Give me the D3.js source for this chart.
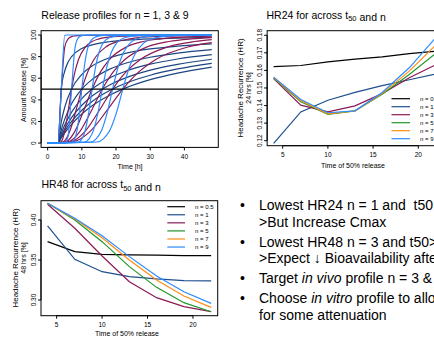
<!DOCTYPE html>
<html>
<head>
<meta charset="utf-8">
<script src="https://cdn.jsdelivr.net/npm/d3@7"></script>
<style>
  body { margin: 0; background: #fff; }
  text { font-family: "Liberation Sans", Arial, sans-serif; fill: #000; white-space: pre; }
</style>
</head>
<body>
<svg id="chart" width="434" height="338"></svg>
<script>
// ---- data ----
// release profiles, [time h, % released], one curve per t50 (4,7,...,22)
var releaseN1 = [
  [[0,0],[3,0],[4,50],[5,66.7],[6,75],[7,80],[10,87.5],[13,90.9],[18,93.8],[23,95.2],[30,96.4],[38,97.2],[48,97.8]],
  [[0,0],[3,0],[4,20],[5,33.3],[7,50],[10,63.6],[13,71.4],[18,78.9],[23,83.3],[30,87.1],[38,89.7],[48,91.8]],
  [[0,0],[3,0],[4,12.5],[5,22.2],[7,36.4],[10,50],[13,58.8],[18,68.2],[23,74.1],[30,79.4],[38,83.3],[48,86.5]],
  [[0,0],[3,0],[4,9.1],[5,16.7],[7,28.6],[10,41.2],[13,50],[18,60],[23,66.7],[30,73],[38,77.8],[48,81.8]],
  [[0,0],[3,0],[4,7.1],[5,13.3],[7,23.5],[10,35],[13,43.5],[18,53.6],[23,60.6],[30,67.5],[38,72.9],[48,77.6]],
  [[0,0],[3,0],[4,5.9],[5,11.1],[7,20],[10,30.4],[13,38.5],[18,48.4],[23,55.6],[30,62.8],[38,68.6],[48,73.8]],
  [[0,0],[3,0],[4,5],[5,9.5],[7,17.4],[10,26.9],[13,34.5],[18,44.1],[23,51.3],[30,58.7],[38,64.8],[48,70.3]]
];
var releaseN3 = [
  [[0,0],[3,0],[4,50],[5,88.9],[6,96.4],[7,98.5],[8,99.2],[10,99.7],[48,100]],
  [[0,0],[3,0],[4,1.5],[5,11.1],[6,29.7],[7,50],[8,66.1],[9,77.1],[11,88.9],[13,94],[15,96.4],[19,98.5],[27,99.5],[48,100]],
  [[0,0],[3,0],[4.75,1.5],[6.5,11.1],[8.25,29.7],[10,50],[11.75,66.1],[13.5,77.1],[17,88.9],[20.5,94],[24,96.4],[31,98.5],[48,99.6]],
  [[0,0],[3,0],[5.5,1.5],[8,11.1],[10.5,29.7],[13,50],[15.5,66.1],[18,77.1],[23,88.9],[28,94],[33,96.4],[43,98.5],[48,98.9]],
  [[0,0],[3,0],[6.25,1.5],[9.5,11.1],[12.75,29.7],[16,50],[19.25,66.1],[22.5,77.1],[29,88.9],[35.5,94],[42,96.4],[48,97.6]],
  [[0,0],[3,0],[7,1.5],[11,11.1],[15,29.7],[19,50],[23,66.1],[27,77.1],[35,88.9],[43,94],[48,95.7]],
  [[0,0],[3,0],[7.75,1.5],[12.5,11.1],[17.25,29.7],[22,50],[26.75,66.1],[31.5,77.1],[41,88.9],[48,93]]
];
var releaseN9 = [
  [[0,0],[3,0],[4,50],[5,99.8],[6,100],[48,100]],
  [[0,0],[5,0.2],[6,7],[7,50],[8,88.2],[9,97.5],[10,99.4],[12,100],[48,100]],
  [[0,0],[7.2,1],[7.9,3.9],[8.6,11.8],[9.3,27.9],[10,50],[10.7,70.2],[11.4,83.8],[12.1,91.4],[13.5,97.5],[15.6,99.5],[20.5,100],[48,100]],
  [[0,0],[9,1],[10,3.9],[11,11.8],[12,27.9],[13,50],[14,70.2],[15,83.8],[16,91.4],[18,97.5],[21,99.5],[28,100],[48,100]],
  [[0,0],[10.8,1],[12.1,3.9],[13.4,11.8],[14.7,27.9],[16,50],[17.3,70.2],[18.6,83.8],[19.9,91.4],[22.5,97.5],[26.4,99.5],[35.5,100],[48,100]],
  [[0,0],[12.6,1],[14.2,3.9],[15.8,11.8],[17.4,27.9],[19,50],[20.6,70.2],[22.2,83.8],[23.8,91.4],[27,97.5],[31.8,99.5],[43,100],[48,100]],
  [[0,0],[14.4,1],[16.3,3.9],[18.2,11.8],[20.1,27.9],[22,50],[23.9,70.2],[25.8,83.8],[27.7,91.4],[31.5,97.5],[37.2,99.5],[48,100]]
];
var halfRelease = 50;

// headache recurrence vs t50
var t50 = [4, 7, 10, 13, 16, 19, 22];
var nLabels = ["n = 0.5", "n = 1", "n = 3", "n = 5", "n = 7", "n = 9"];
var hr24_n05 = [0.1621, 0.1628, 0.1649, 0.1664, 0.1677, 0.1696, 0.1710];
var hr24_n1  = [0.1185, 0.1364, 0.1430, 0.1475, 0.1513, 0.1547, 0.1580];
var hr24_n3  = [0.1553, 0.1402, 0.1364, 0.1398, 0.1468, 0.1558, 0.1634];
var hr24_n5  = [0.1557, 0.1421, 0.1350, 0.1370, 0.1464, 0.1577, 0.1700];
var hr24_n7  = [0.1560, 0.1428, 0.1353, 0.1370, 0.1468, 0.1596, 0.1748];
var hr24_n9  = [0.1562, 0.1434, 0.1359, 0.1370, 0.1474, 0.1615, 0.1791];

var hr48_n05 = [0.3729, 0.3604, 0.3571, 0.3565, 0.3560, 0.3555, 0.3555];
var hr48_n1  = [0.3925, 0.3508, 0.3354, 0.3292, 0.3263, 0.3242, 0.3238];
var hr48_n3  = [0.4196, 0.3896, 0.3550, 0.3229, 0.3029, 0.2917, 0.2854];
var hr48_n5  = [0.4208, 0.4000, 0.3729, 0.3417, 0.3158, 0.2967, 0.2854];
var hr48_n7  = [0.4208, 0.4012, 0.3779, 0.3500, 0.3250, 0.3050, 0.2908];
var hr48_n9  = [0.4208, 0.4021, 0.3804, 0.3542, 0.3300, 0.3104, 0.2958];

var timeTicks = [0, 10, 20, 30, 40];
var pctTicks = [0, 20, 40, 60, 80, 100];
var t50Ticks = [5, 10, 15, 20];
var hr24Ticks = [0.12, 0.13, 0.14, 0.15, 0.16, 0.17, 0.18];
var hr48Ticks = [0.30, 0.35, 0.40];

var nColors = ["#000000", "#1f4f8f", "#8c1a55", "#22962a", "#ff8c14", "#2a8cff"];
var releaseColors = ["#1c4680", "#8c1a55", "#2a8cff"];

var svg = d3.select("#chart");

// R-style axes: box + outward ticks, y labels rotated
function rAxes(x, y, xt, yt, yfmt) {
  var x0 = x.range()[0], x1 = x.range()[1], y0 = y.range()[0], y1 = y.range()[1];
  svg.append("rect")
    .attr("x", x0).attr("y", y1).attr("width", x1 - x0).attr("height", y0 - y1)
    .attr("fill", "none").attr("stroke", "#000").attr("stroke-width", 1);

  svg.append("line").attr("x1", x(xt[0])).attr("x2", x(xt[xt.length - 1]))
    .attr("y1", y0).attr("y2", y0).attr("stroke", "#000");
  xt.forEach(function(v) {
    svg.append("line").attr("x1", x(v)).attr("x2", x(v)).attr("y1", y0).attr("y2", y0 + 3).attr("stroke", "#000");
    svg.append("text").attr("x", x(v)).attr("y", y0 + 11.5).attr("text-anchor", "middle")
      .attr("font-size", 6.5).text(v);
  });

  svg.append("line").attr("x1", x0).attr("x2", x0)
    .attr("y1", y(yt[0])).attr("y2", y(yt[yt.length - 1])).attr("stroke", "#000");
  yt.forEach(function(v) {
    svg.append("line").attr("x1", x0 - 3).attr("x2", x0).attr("y1", y(v)).attr("y2", y(v)).attr("stroke", "#000");
    svg.append("text").attr("transform", "translate(" + (x0 - 5.5) + "," + y(v) + ") rotate(-90)")
      .attr("text-anchor", "middle").attr("font-size", 6.5).text(yfmt(v));
  });
}

function title(x, y, parts, anchor) {
  var t = svg.append("text").attr("x", x).attr("y", y).attr("font-size", 10.5)
    .attr("text-anchor", anchor || "start");
  parts.forEach(function(p) {
    if (p.sub) {
      t.append("tspan").attr("font-size", 7.5).attr("dy", 2.5).text(p.text);
      t.append("tspan").attr("dy", -2.5).text("");
    } else {
      t.append("tspan").text(p.text);
    }
  });
}

function rotLabel(x, y, txt, size) {
  svg.append("text").attr("transform", "translate(" + x + "," + y + ") rotate(-90)")
    .attr("text-anchor", "middle").attr("font-size", size).text(txt);
}

// ---- panel 1: release profiles ----
var x1 = d3.scaleLinear().domain([-1.92, 49.92]).range([41.1, 218.3]);
var y1 = d3.scaleLinear().domain([-4, 104]).range([147.4, 30.7]);
var rel = d3.line().x(function(d) { return x1(d[0]); }).y(function(d) { return y1(d[1]); })
  .curve(d3.curveMonotoneX);

svg.append("clipPath").attr("id", "c1").append("rect")
  .attr("x", 41.1).attr("y", 30.7).attr("width", 177.2).attr("height", 116.7);

var g1 = svg.append("g").attr("clip-path", "url(#c1)");
[releaseN1, releaseN3, releaseN9].forEach(function(set, i) {
  g1.selectAll(null).data(set).enter().append("path")
    .attr("d", rel).attr("fill", "none")
    .attr("stroke", releaseColors[i]).attr("stroke-width", 1.2);
});
g1.append("line").attr("x1", x1.range()[0]).attr("x2", x1.range()[1])
  .attr("y1", y1(halfRelease)).attr("y2", y1(halfRelease))
  .attr("stroke", "#000").attr("stroke-width", 1.2);

rAxes(x1, y1, timeTicks, pctTicks, function(v) { return v; });
title(115, 18.5, [{text: "Release profiles for n = 1, 3 & 9"}], "middle");
svg.append("text").attr("x", 130).attr("y", 168.5).attr("text-anchor", "middle")
  .attr("font-size", 7).text("Time [h]");
rotLabel(25.5, 90, "Amount Release [%]", 7);

// ---- panel 2: HR24 ----
var x2 = d3.scaleLinear().domain([3.28, 22.72]).range([267.15, 442.9]);
var y2 = d3.scaleLinear().domain([0.11715, 0.1826]).range([145.7, 30.7]);
var hr24 = [hr24_n05, hr24_n1, hr24_n3, hr24_n5, hr24_n7, hr24_n9];
var line2 = d3.line().x(function(d, i) { return x2(t50[i]); }).y(function(d) { return y2(d); });
svg.append("clipPath").attr("id", "c2").append("rect")
  .attr("x", 267).attr("y", 30.7).attr("width", 200).attr("height", 115);
var g2 = svg.append("g").attr("clip-path", "url(#c2)");
g2.selectAll(null).data(hr24).enter().append("path")
  .attr("d", line2).attr("fill", "none")
  .attr("stroke", function(d, i) { return nColors[i]; }).attr("stroke-width", 1.2);

rAxes(x2, y2, t50Ticks, hr24Ticks, d3.format(".2f"));
title(266.5, 18.5, [{text: "HR24 for across t"}, {text: "50", sub: true}, {text: " and n"}]);
svg.append("text").attr("x", 353).attr("y", 167.5).attr("text-anchor", "middle")
  .attr("font-size", 7).text("Time of 50% release");
rotLabel(242.5, 88, "Headache Recurrence (HR)", 8);
rotLabel(250.5, 88, "24 hrs [%]", 7);

// legend, no box
nLabels.forEach(function(lab, i) {
  var yy = 98.7 + i * 8;
  svg.append("line").attr("x1", 391.5).attr("x2", 410).attr("y1", yy).attr("y2", yy)
    .attr("stroke", nColors[i]).attr("stroke-width", 1.2);
  svg.append("text").attr("x", 420).attr("y", yy + 2.2).attr("font-size", 6).text(lab);
});

// ---- panel 3: HR48 ----
var x3 = d3.scaleLinear().domain([3.28, 22.72]).range([41, 217.7]);
var y3 = d3.scaleLinear().domain([0.2804, 0.4241]).range([315.7, 200.7]);
var hr48 = [hr48_n05, hr48_n1, hr48_n3, hr48_n5, hr48_n7, hr48_n9];
var line3 = d3.line().x(function(d, i) { return x3(t50[i]); }).y(function(d) { return y3(d); });
svg.append("g").selectAll(null).data(hr48).enter().append("path")
  .attr("d", line3).attr("fill", "none")
  .attr("stroke", function(d, i) { return nColors[i]; }).attr("stroke-width", 1.2);

rAxes(x3, y3, t50Ticks, hr48Ticks, d3.format(".2f"));
title(41.5, 188, [{text: "HR48 for across t"}, {text: "50", sub: true}, {text: " and n"}]);
svg.append("text").attr("x", 127).attr("y", 335.5).attr("text-anchor", "middle")
  .attr("font-size", 7).text("Time of 50% release");
rotLabel(17.5, 258, "Headache Recurrence (HR)", 8);
rotLabel(25.5, 258, "48 hrs [%]", 7);

nLabels.forEach(function(lab, i) {
  var yy = 206.7 + i * 8.07;
  svg.append("line").attr("x1", 167.3).attr("x2", 185).attr("y1", yy).attr("y2", yy)
    .attr("stroke", nColors[i]).attr("stroke-width", 1.2);
  svg.append("text").attr("x", 195).attr("y", yy + 2.2).attr("font-size", 6).text(lab);
});

// ---- bullet notes (run past the right edge, as on the slide) ----
var notes = [
  {y: 210, bullet: true, parts: [{t: "Lowest HR24 n = 1 and  t50"}]},
  {y: 227, parts: [{t: ">But Increase Cmax"}]},
  {y: 247, bullet: true, parts: [{t: "Lowest HR48 n = 3 and t50>"}]},
  {y: 263, parts: [{t: ">Expect \u2193 Bioavailability after"}]},
  {y: 283, bullet: true, parts: [{t: "Target "}, {t: "in vivo", i: true}, {t: " profile n = 3 &"}]},
  {y: 303, bullet: true, parts: [{t: "Choose "}, {t: "in vitro", i: true}, {t: " profile to allow"}]},
  {y: 320, parts: [{t: "for some attenuation"}]}
];
notes.forEach(function(n) {
  if (n.bullet) {
    svg.append("text").attr("x", 240).attr("y", n.y).attr("font-size", 14).text("\u2022");
  }
  var t = svg.append("text").attr("x", 259).attr("y", n.y).attr("font-size", 14);
  n.parts.forEach(function(p) {
    t.append("tspan").attr("font-style", p.i ? "italic" : "normal").text(p.t);
  });
});
</script>
</body>
</html>
